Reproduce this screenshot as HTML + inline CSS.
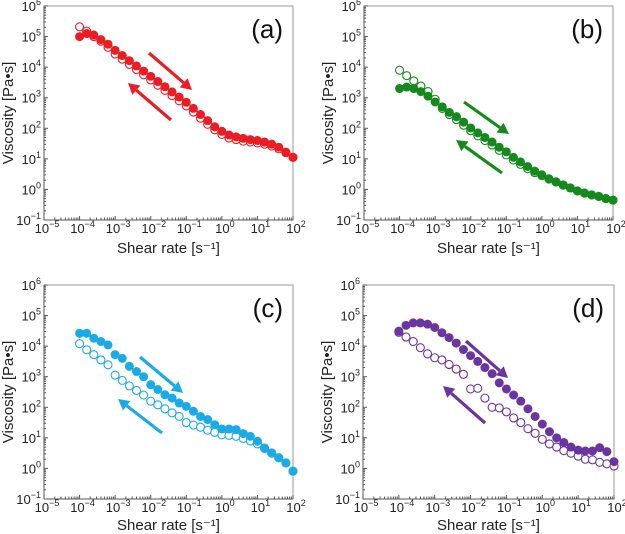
<!DOCTYPE html>
<html><head><meta charset="utf-8">
<style>
html,body{margin:0;padding:0;background:#fff;}
svg{display:block;font-family:"Liberation Sans",sans-serif;}
</style></head>
<body>
<svg id="chart" width="625" height="534" viewBox="0 0 625 534"></svg>
<script>
// x: shear rate points, 1e-4 .. 1e2, 5 per decade (log10)
const xLogs = Array.from({length:31},(_,i)=>-4+i/5);
const xTickExps = [-5,-4,-3,-2,-1,0,1,2];
const yTickExps = [-1,0,1,2,3,4,5,6];
const panelLabels = ["(a)","(b)","(c)","(d)"];
const colors = ["#ea1c24","#158a1c","#1aaae6","#6a35a0"];
// log10 viscosity values
const aUp = [5.0,5.1,5.05,4.9,4.75,4.55,4.38,4.21,4.04,3.87,3.7,3.53,3.36,3.19,3.02,2.85,2.65,2.45,2.25,2.05,1.9,1.78,1.72,1.67,1.63,1.6,1.55,1.48,1.38,1.22,1.05];
const aDown = [5.32,5.18,5.0,4.85,4.65,4.43,4.26,4.09,3.92,3.75,3.58,3.41,3.24,3.07,2.9,2.73,2.53,2.33,2.13,1.95,1.8,1.68,1.63,1.58,1.55,1.52,1.48,1.42,1.33,1.2,1.05];
const bUp = [3.3,3.35,3.3,3.2,3.05,2.86,2.7,2.52,2.38,2.2,2.01,1.85,1.7,1.55,1.38,1.23,1.05,0.9,0.75,0.6,0.48,0.35,0.25,0.15,0.05,-0.05,-0.12,-0.18,-0.23,-0.3,-0.35];
const bDown = [3.9,3.72,3.55,3.38,3.2,2.95,2.65,2.45,2.28,2.1,1.92,1.75,1.6,1.45,1.28,1.13,0.96,0.82,0.68,0.55,0.45,0.34,0.24,0.14,0.05,-0.05,-0.12,-0.18,-0.23,-0.3,-0.35];
const cUp = [4.42,4.42,4.26,4.15,4.04,3.72,3.6,3.34,3.17,3.0,2.74,2.58,2.41,2.3,2.14,2.03,1.87,1.7,1.6,1.43,1.29,1.29,1.27,1.14,1.05,0.89,0.67,0.51,0.35,0.18,-0.09];
const cDown = [4.08,3.88,3.72,3.55,3.39,3.05,2.88,2.7,2.55,2.4,2.2,2.08,1.95,1.82,1.7,1.5,1.42,1.35,1.25,1.18,1.1,1.08,1.05,0.98,0.9,0.8,0.65,0.5,0.35,0.18,-0.09];
const dUp = [4.49,4.68,4.76,4.76,4.72,4.61,4.44,4.28,4.1,3.89,3.69,3.5,3.3,3.1,2.8,2.6,2.4,2.2,1.95,1.7,1.45,1.2,1.0,0.85,0.7,0.6,0.57,0.57,0.68,0.55,0.22];
const dDown = [4.45,4.3,4.15,3.95,3.75,3.62,3.55,3.4,3.25,3.08,2.6,2.62,2.3,2.0,1.98,1.85,1.65,1.5,1.3,1.15,0.95,0.8,0.7,0.58,0.5,0.4,0.3,0.28,0.2,0.15,0.08];
const upSeries = [aUp,bUp,cUp,dUp];
const downSeries = [aDown,bDown,cDown,dDown];

const NS="http://www.w3.org/2000/svg";
const svg=document.getElementById('chart');
function mk(tag,attrs,parent){const e=document.createElementNS(NS,tag);for(const k in attrs)e.setAttribute(k,attrs[k]);(parent||svg).appendChild(e);return e;}
const boxes=[{x0:44,x1:293,y0:6,y1:220,tt:33},{x0:364,x1:613,y0:6,y1:220,tt:33},{x0:44,x1:293,y0:285,y1:499,tt:31},{x0:363,x1:614,y0:285,y1:499,tt:31}];
const arrows=[
 [[149,53,192,90],[171,120,128,83]],
 [[464,102,509,134],[502,173,456,140]],
 [[140,357,183,393],[162,433,118,399]],
 [[466,341,508,378],[485,423,443,386]]];
const names=["a","b","c","d"];
function powLabel(parent,x,y,anchor,e){
  const t=mk('text',{x:x,y:y,'text-anchor':anchor,'font-size':13,fill:'#222'},parent);
  const a=mk('tspan',{},t);a.textContent='10';
  const s=mk('tspan',{dy:-6,'font-size':9},t);s.textContent=(e<0?'\u2212':'')+Math.abs(e);
  return t;
}

boxes.forEach((b,p)=>{
  const g=mk('g',{});
  
  
  const sx=v=>b.x0+(v+5)/7*(b.x1-b.x0);
  const sy=v=>b.y1-(v+1)/7*(b.y1-b.y0);
  const frame=mk('rect',{x:b.x0,y:b.y0,width:b.x1-b.x0,height:b.y1-b.y0,fill:'none',stroke:'#9a9a9a','stroke-width':1},g);
  
  
  mk('line',{x1:b.x0,y1:b.y0,x2:b.x0,y2:b.y1,stroke:'#555','stroke-width':1},g);
  mk('line',{x1:b.x0,y1:b.y1,x2:b.x1,y2:b.y1,stroke:'#555','stroke-width':1},g);
  xTickExps.forEach((e,i)=>{
    const x=sx(e);
    mk('line',{x1:x,y1:b.y1,x2:x,y2:b.y1-4,stroke:'#555'},g);
    if(i<xTickExps.length-1){for(let m=2;m<10;m++){const xm=sx(e+Math.log10(m));mk('line',{x1:xm,y1:b.y1,x2:xm,y2:b.y1-2.5,stroke:'#555'},g);}}
    const t=powLabel(g,x+3,b.y1+13,'middle',e);
    
    
  });
  yTickExps.forEach((e,i)=>{
    const y=sy(e);
    mk('line',{x1:b.x0,y1:y,x2:b.x0+4,y2:y,stroke:'#555'},g);
    if(i<yTickExps.length-1){for(let m=2;m<10;m++){const ym=sy(e+Math.log10(m));mk('line',{x1:b.x0,y1:ym,x2:b.x0+2,y2:ym,stroke:'#555'},g);}}
    const t=powLabel(g,b.x0-3,y+5,'end',e);
    
    
  });
  const xt=mk('text',{x:(b.x0+b.x1)/2,y:b.y1+b.tt,'text-anchor':'middle','font-size':15,fill:'#222'},g);
  xt.textContent='Shear rate [s\u207B\u00B9]';
  
  
  const cy=(b.y0+b.y1)/2, cx=b.x0-31;
  const yt=mk('text',{x:cx,y:cy,'text-anchor':'middle','font-size':15,fill:'#222',transform:'rotate(-90 '+cx+' '+cy+')'},g);
  yt.textContent='Viscosity [Pa\u2022s]';
  
  
  const pl=mk('text',{x:b.x1-10,y:b.y0+32,'text-anchor':'end','font-size':26,fill:'#111'},g);
  pl.textContent=panelLabels[p];
  
  
  const col=colors[p];
  arrows[p].forEach((a,k)=>{
    const [x1,y1,x2,y2]=a;const ang=Math.atan2(y2-y1,x2-x1);const L=11,W=6;
    const bx=x2-L*Math.cos(ang),by=y2-L*Math.sin(ang);
    const ag=mk('g',{},g);
    
    
    mk('line',{x1:x1,y1:y1,x2:bx,y2:by,stroke:col,'stroke-width':3.2},ag);
    const px=-Math.sin(ang)*W,py=Math.cos(ang)*W;
    mk('polygon',{points:`${x2},${y2} ${bx+px},${by+py} ${bx-px},${by-py}`,fill:col},ag);
  });
  downSeries[p].forEach((v,i)=>{
    const c=mk('circle',{cx:sx(xLogs[i]),cy:sy(v),r:4,fill:'#fff',stroke:col,'stroke-width':1.1},g);
    
    
  });
  upSeries[p].forEach((v,i)=>{
    const c=mk('circle',{cx:sx(xLogs[i]),cy:sy(v),r:4.5,fill:col},g);
    
    
  });
});
</script>
</body></html>
